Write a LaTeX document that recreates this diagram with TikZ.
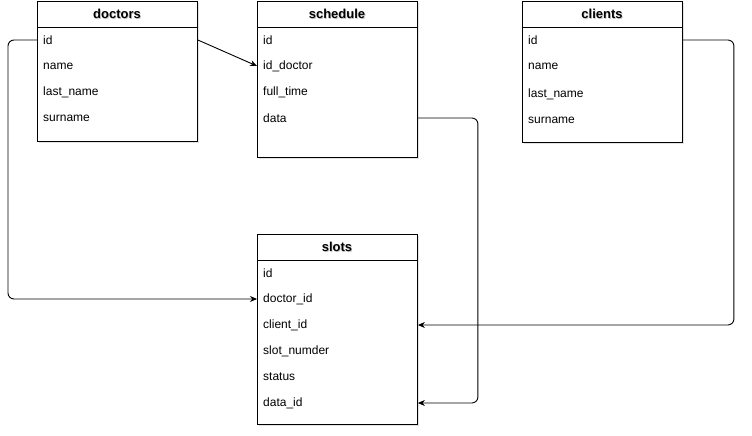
\documentclass[tikz,border=0pt]{standalone}
\usepackage{fontspec}
\setmainfont{Liberation Sans}
\usetikzlibrary{shadows,arrows.meta}
\begin{document}
\begin{tikzpicture}[x=1pt,y=-1pt,
  tbl/.style={draw=black, line width=0.9pt, fill=white, inner sep=0pt, anchor=north west,
    minimum width=160pt, drop shadow={opacity=0.22, shadow xshift=2pt, shadow yshift=-2pt}},
  hdr/.style={font=\fontsize{13pt}{15pt}\selectfont\bfseries, inner sep=0pt},
  hdrsh/.style={hdr, text=black!45, opacity=0.5},
  row/.style={font=\fontsize{12pt}{14pt}\selectfont, anchor=west, inner sep=0pt},
  conn/.style={draw=black, line width=0.9pt, rounded corners=6pt},
  tip/.style={-{Stealth[length=7pt,width=6pt]}}
]
\useasboundingbox (0,0) rectangle (752,436);
% tables
\node[tbl, minimum height=140pt] (doctors) at (37,1) {};
\node[tbl, minimum height=156pt] (schedule) at (257,1) {};
\node[tbl, minimum height=141pt] (clients) at (522,1) {};
\node[tbl, minimum height=190pt] (slots) at (257,234) {};
\foreach \t in {doctors,schedule,clients,slots}{
  \draw[line width=0.9pt] ([yshift=-26pt]\t.north west) -- ([yshift=-26pt]\t.north east);
}
% headers
\node[hdrsh] at (117.8,15) {doctors};
\node[hdr] (doctors-h) at (117,14) {doctors};
\node[hdrsh] at (337.8,15) {schedule};
\node[hdr] (schedule-h) at (337,14) {schedule};
\node[hdrsh] at (602.8,15) {clients};
\node[hdr] (clients-h) at (602,14) {clients};
\node[hdrsh] at (337.8,248) {slots};
\node[hdr] (slots-h) at (337,247) {slots};
% doctors rows
\node[row] (d-id) at (43,40) {id};
\node[row] (d-name) at (43,66) {name};
\node[row] (d-last) at (43,92) {last\_name};
\node[row] (d-sur) at (43,118) {surname};
% schedule rows
\node[row] (sc-id) at (263,40) {id};
\node[row] (sc-doc) at (263,66) {id\_doctor};
\node[row] (sc-full) at (263,92) {full\_time};
\node[row] (sc-data) at (263,118) {data};
% clients rows
\node[row] (c-id) at (528,40) {id};
\node[row] (c-name) at (528,66) {name};
\node[row] (c-last) at (528,94) {last\_name};
\node[row] (c-sur) at (528,120) {surname};
% slots rows
\node[row] (s-id) at (263,273) {id};
\node[row] (s-doc) at (263,299) {doctor\_id};
\node[row] (s-client) at (263,325) {client\_id};
\node[row] (s-num) at (263,351) {slot\_numder};
\node[row] (s-status) at (263,377) {status};
\node[row] (s-data) at (263,403) {data\_id};
% connectors
\draw[conn, tip] (doctors.west |- d-id) -- ++(-29,0) |- (slots.west |- s-doc);
\draw[conn, tip] (doctors.east |- d-id) -- (schedule.west |- sc-doc);
\draw[conn, tip] (schedule.east |- sc-data) -- ++(60,0) |- (slots.east |- s-data);
\draw[conn, tip] (clients.east |- c-id) -- ++(51,0) |- (slots.east |- s-client);
\end{tikzpicture}
\end{document}
